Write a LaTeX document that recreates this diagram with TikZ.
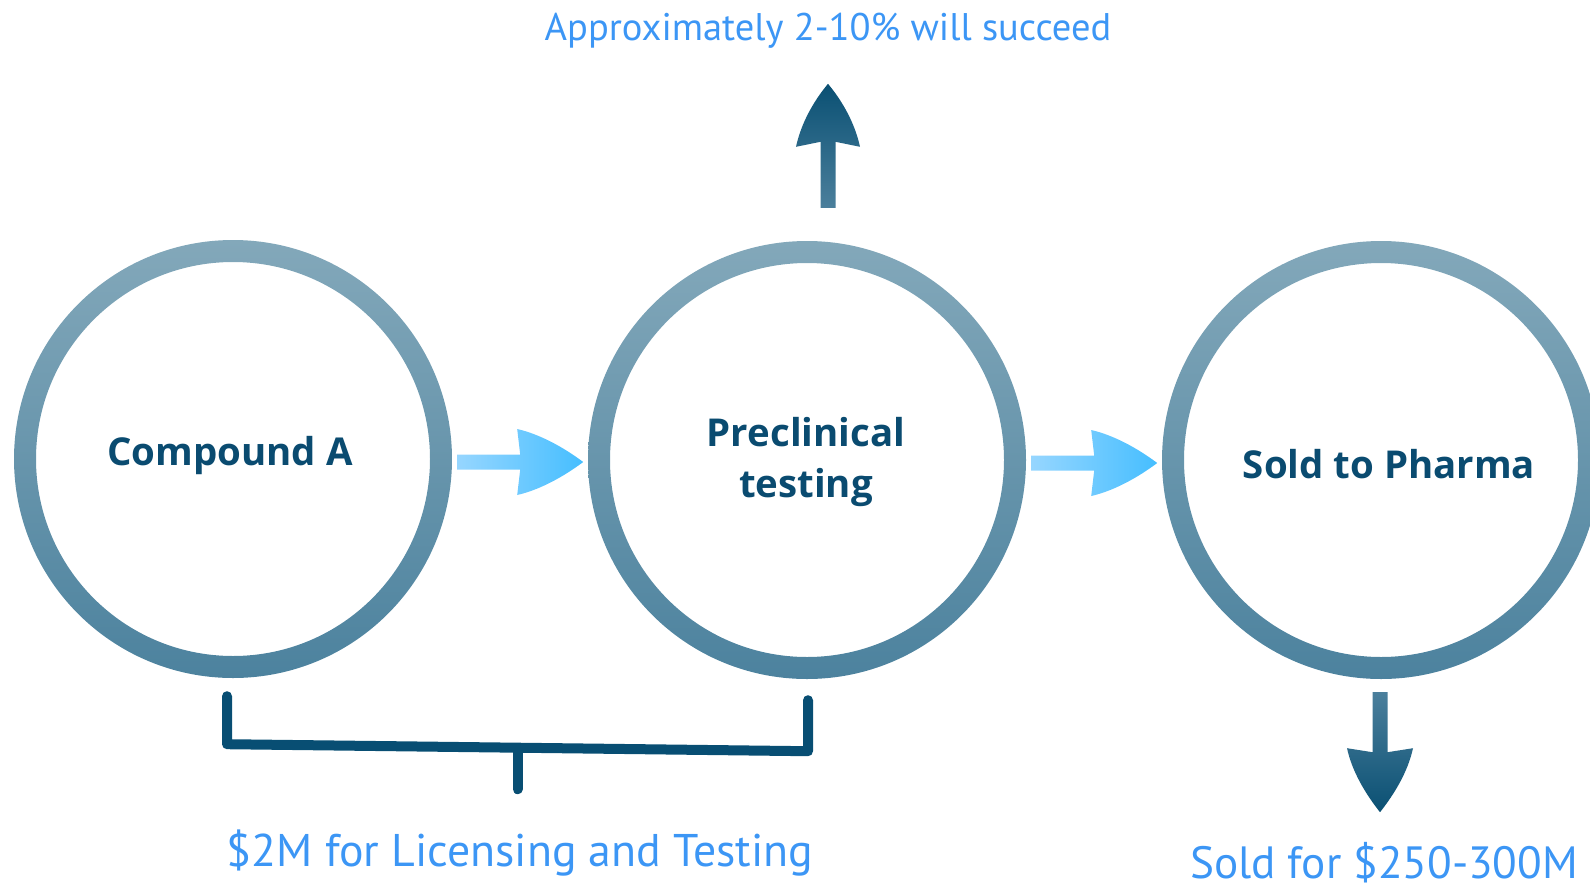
\documentclass[tikz,border=0pt]{standalone}
\usepackage{fontspec}
\setmainfont{Open Sans}
\newfontfamily\lblfont{PT Sans}
\usetikzlibrary{calc}
\definecolor{ringtop}{RGB}{131,168,186}
\definecolor{ringbot}{RGB}{76,130,158}
\definecolor{darktext}{RGB}{10,75,112}
\definecolor{lbl}{RGB}{60,150,245}
\definecolor{bracketc}{RGB}{8,78,115}
\definecolor{lightL}{RGB}{150,214,255}
\definecolor{lightR}{RGB}{70,190,255}
\definecolor{darkA}{RGB}{10,80,115}
\definecolor{lightA}{RGB}{75,127,156}
\begin{document}
\begin{tikzpicture}[x=1pt,y=-1pt,
 ring/.style={circle, minimum size=438pt, inner sep=0pt},
 ringshade/.style={top color=ringtop, bottom color=ringbot, even odd rule},
 stagetext/.style={font=\bfseries\fontsize{38.4}{51}\selectfont, text=darktext, align=center, inner sep=0pt},
 note/.style={font=\lblfont\fontsize{38.5}{46}\selectfont, text=lbl, inner sep=0pt},
 costnote/.style={font=\lblfont\fontsize{45.8}{54}\selectfont, text=lbl, inner sep=0pt},
 salenote/.style={font=\lblfont\fontsize{45.2}{54}\selectfont, text=lbl, inner sep=0pt},
 flowarrow/.style={left color=lightL, right color=lightR},
 bracket/.style={draw=bracketc, line width=10pt, line cap=round, line join=round},
]
\useasboundingbox (0,0) rectangle (1590,889);
\clip (0,0) rectangle (1590,889);

% stages
\node[ring] (c1) at (233,459) {};
\node[ring] (c2) at (807,460) {};
\node[ring] (c3) at (1381,460) {};
\foreach \c in {c1,c2,c3}
  \shade[ringshade] (\c.center) circle (219pt) (\c.center) circle (197pt);

\node[stagetext, anchor=base] (t1) at (230,465) {Compound A};
\node[stagetext, anchor=base] (t2) at (806,497) {Preclinical\\testing};
\node[stagetext, anchor=base] (t3) at (1389,478) {Sold to Pharma};

% flow arrows
\coordinate (a1) at ($(c1.east)+(5,3)$);
\coordinate (a2) at ($(c2.east)+(5,3)$);
\foreach \s in {a1,a2}
  \shade[flowarrow, shift={(\s)}]
    (0,-7.5) -- (63,-7.5) -- (60,-33)
    .. controls (82,-28) and (106,-15) .. (126,0)
    .. controls (106,15) and (82,28) .. (60,33)
    -- (63,7.5) -- (0,7.5) -- cycle;

% up arrow
\coordinate (u) at ($(c2.north)+(21,-33)$);
\shade[top color=darkA, bottom color=lightA, shift={(u)}]
  (-7.5,0) -- (-7.5,-66) -- (-32,-61)
  .. controls (-27,-84) and (-15,-106) .. (0,-124)
  .. controls (15,-106) and (27,-84) .. (32,-61)
  -- (7.5,-66) -- (7.5,0) -- cycle;

% down arrow
\coordinate (d) at ($(c3.south)+(-1,13)$);
\shade[top color=lightA, bottom color=darkA, shift={(d)}]
  (-7.5,0) -- (-7.5,60) -- (-33,56)
  .. controls (-28,79) and (-15,101) .. (0,120)
  .. controls (15,101) and (28,79) .. (33,56)
  -- (7.5,60) -- (7.5,0) -- cycle;

% labels
\node[note, anchor=base] (top) at (828,40) {Approximately 2-10\% will succeed};
\node[costnote, anchor=base] (cost) at (520,866) {\$2M for Licensing and Testing};
\node[salenote, anchor=base] (sale) at (1384,878) {Sold for \$250-300M};

% bracket
\coordinate (bl) at ($(c1.south)+(-6,18)$);
\coordinate (br) at ($(c2.south)+(1,21)$);
\coordinate (bm) at ($(bl)!0.5!(br)+(0,50)$);
\draw[bracket] (bl) -- ++(0,48) -- ($(br)+(0,51)$) -- (br);
\draw[bracket] (bm) -- ++(0,41);
\end{tikzpicture}
\end{document}
